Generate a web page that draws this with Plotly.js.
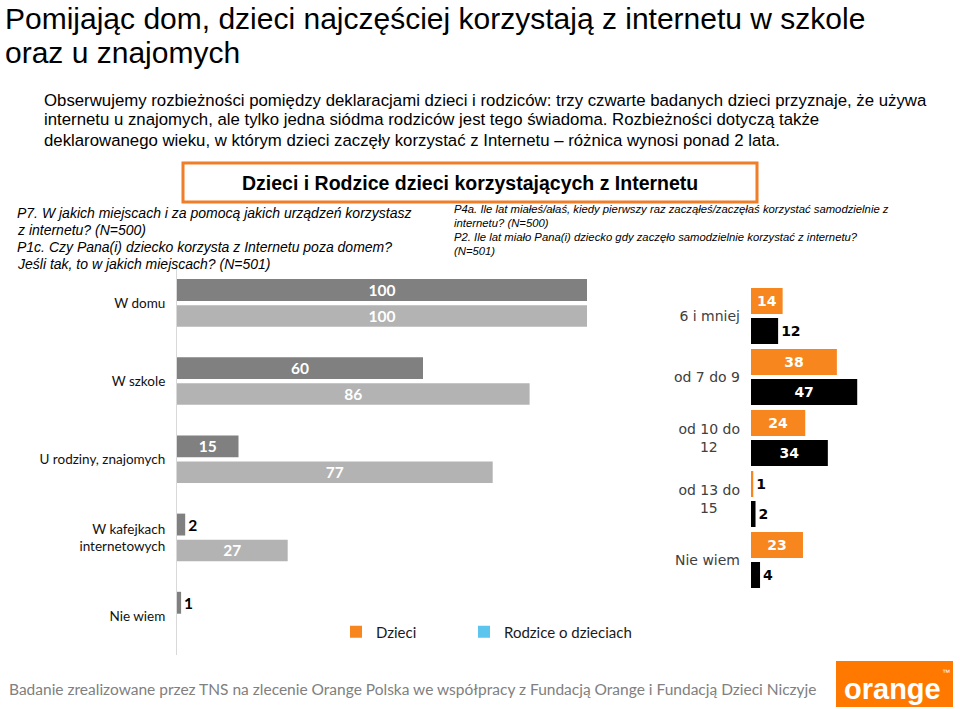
<!DOCTYPE html>
<html>
<head>
<meta charset="utf-8">
<script src="https://cdn.plot.ly/plotly-3.0.1.min.js"></script>
<style>html,body{margin:0;padding:0;background:#fff;}#chart{width:960px;height:709px;}</style>
</head>
<body>
<div id="chart"></div>
<script>
// ---- data ----
const leftCategories = ['W domu', 'W szkole', 'U rodziny, znajomych', 'W kafejkach<br>internetowych', 'Nie wiem'];
const leftDzieci = [100, 60, 15, 2, 1];
const leftRodzice = [100, 86, 77, 27, null];
const rightCategories = ['6 i mniej', 'od 7 do 9', 'od 10 do<br>12&nbsp;&nbsp;&nbsp;&nbsp;&nbsp;', 'od 13 do<br>15&nbsp;&nbsp;&nbsp;&nbsp;&nbsp;', 'Nie wiem'];
const rightDzieci = [14, 38, 24, 1, 23];
const rightRodzice = [12, 47, 34, 2, 4];
const seriesNames = ['Dzieci', 'Rodzice o dzieciach'];

// ---- helpers (pixel -> paper) ----
const W = 960, H = 709;
const px = x => x / W;
const py = y => 1 - y / H;

const HEAD = 'Liberation Sans, Arial, sans-serif';
const CAL = 'Lato, Carlito, Calibri, sans-serif';
const VER = 'DejaVu Sans, Verdana, sans-serif';

const traces = [
  {
    type: 'bar', orientation: 'h', name: seriesNames[0],
    x: leftDzieci, y: leftCategories, xaxis: 'x', yaxis: 'y',
    marker: {color: '#808080'},
    width: 0.28, offset: -0.308,
    text: leftDzieci.map(String), texttemplate: '%{text}', textangle: 0,
    textposition: ['inside', 'inside', 'inside', 'outside', 'outside'],
    insidetextanchor: 'middle', constraintext: 'none',
    insidetextfont: {family: CAL, size: 15.5, color: '#ffffff', weight: 'bold'},
    outsidetextfont: {family: CAL, size: 15.5, color: '#000000', weight: 'bold'},
    cliponaxis: false, showlegend: false, hoverinfo: 'skip'
  },
  {
    type: 'bar', orientation: 'h', name: seriesNames[1],
    x: leftRodzice, y: leftCategories, xaxis: 'x', yaxis: 'y',
    marker: {color: '#b3b3b3'},
    width: 0.275, offset: 0.026,
    text: leftRodzice.map(v => v == null ? '' : String(v)), texttemplate: '%{text}', textangle: 0,
    textposition: 'inside',
    insidetextanchor: 'middle', constraintext: 'none',
    insidetextfont: {family: CAL, size: 15.5, color: '#ffffff', weight: 'bold'},
    cliponaxis: false, showlegend: false, hoverinfo: 'skip'
  },
  {
    type: 'bar', orientation: 'h', name: seriesNames[0],
    x: rightDzieci, y: rightCategories, xaxis: 'x2', yaxis: 'y2',
    marker: {color: '#f7861f'},
    width: 0.426, offset: -0.459,
    text: rightDzieci.map(String), texttemplate: '%{text}', textangle: 0,
    textposition: ['inside', 'inside', 'inside', 'outside', 'inside'],
    insidetextanchor: 'middle', constraintext: 'none',
    insidetextfont: {family: VER, size: 14, color: '#ffffff', weight: 'bold'},
    outsidetextfont: {family: VER, size: 14, color: '#000000', weight: 'bold'},
    cliponaxis: false, showlegend: false, hoverinfo: 'skip'
  },
  {
    type: 'bar', orientation: 'h', name: seriesNames[1],
    x: rightRodzice, y: rightCategories, xaxis: 'x2', yaxis: 'y2',
    marker: {color: '#000000'},
    width: 0.426, offset: 0.033,
    text: rightRodzice.map(String), texttemplate: '%{text}', textangle: 0,
    textposition: ['outside', 'inside', 'inside', 'outside', 'outside'],
    insidetextanchor: 'middle', constraintext: 'none',
    insidetextfont: {family: VER, size: 14, color: '#ffffff', weight: 'bold'},
    outsidetextfont: {family: VER, size: 14, color: '#000000', weight: 'bold'},
    cliponaxis: false, showlegend: false, hoverinfo: 'skip'
  },
  // legend entries (zero-length bars, only for the legend swatches)
  {type: 'bar', orientation: 'h', name: seriesNames[0], x: [0], y: [leftCategories[4]], xaxis: 'x', yaxis: 'y',
   width: 0.01, offset: 0.4, marker: {color: '#f7861f'}, showlegend: true, legend: 'legend', hoverinfo: 'skip'},
  {type: 'bar', orientation: 'h', name: seriesNames[1], x: [0], y: [leftCategories[4]], xaxis: 'x', yaxis: 'y',
   width: 0.01, offset: 0.4, marker: {color: '#5bc5ee'}, showlegend: true, legend: 'legend2', hoverinfo: 'skip'}
];

const hidden = {showgrid: false, zeroline: false, showticklabels: false, showline: false, ticks: ''};

function note(x, y, text, font, anchor) {
  return {xref: 'paper', yref: 'paper', x: px(x), y: py(y), xanchor: anchor || 'left', yanchor: 'middle',
          align: 'left', showarrow: false, text: text, font: font};
}

const titleFont = {family: HEAD, size: 30, color: '#000000'};
const paraFont = {family: HEAD, size: 16.8, color: '#000000'};
const leftNoteFont = {family: HEAD, size: 14, color: '#000000', style: 'italic'};
const rightNoteFont = {family: HEAD, size: 11.3, color: '#000000', style: 'italic'};
const legendBase = {
  orientation: 'h', xanchor: 'left', yanchor: 'middle',
  font: {family: CAL, size: 15, color: '#1a1a1a'},
  bgcolor: 'rgba(0,0,0,0)', traceorder: 'normal'
};

const layout = {
  width: W, height: H,
  margin: {l: 0, r: 0, t: 0, b: 0},
  paper_bgcolor: '#ffffff', plot_bgcolor: 'rgba(0,0,0,0)',
  barmode: 'overlay',
  showlegend: true,
  legend: Object.assign({x: px(336), y: py(632)}, legendBase),
  legend2: Object.assign({x: px(464), y: py(632)}, legendBase),
  xaxis: Object.assign({domain: [px(177), px(600)], range: [0, 423 / 4.1], anchor: 'y', fixedrange: true}, hidden),
  yaxis: {
    domain: [py(655), py(264)], type: 'category', range: [4.5, -0.5], anchor: 'x',
    showline: true, linecolor: '#d9d9d9', linewidth: 1, showgrid: false, zeroline: false,
    ticks: '', ticklabelstandoff: 8,
    tickfont: {family: CAL, size: 13.5, color: '#111111'}
  },
  xaxis2: Object.assign({domain: [px(751), px(955)], range: [0, 204 / 2.26], anchor: 'y2', fixedrange: true}, hidden),
  yaxis2: {
    domain: [py(590.5), py(285.5)], type: 'category', range: [4.5, -0.5], anchor: 'x2',
    showline: false, showgrid: false, zeroline: false,
    ticks: '', ticklabelstandoff: 10,
    tickfont: {family: VER, size: 14, color: '#404040'}
  },
  shapes: [
    {type: 'rect', xref: 'paper', yref: 'paper', x0: px(183), x1: px(757), y0: py(163), y1: py(202),
     line: {color: '#f07d27', width: 3}, fillcolor: 'rgba(0,0,0,0)'},
    {type: 'rect', xref: 'paper', yref: 'paper', x0: px(836), x1: px(953), y0: py(661), y1: py(707),
     line: {width: 0}, fillcolor: '#ff7900'}
  ],
  annotations: [
    note(3, 19, 'Pomijając dom, dzieci najczęściej korzystają z internetu w szkole', titleFont),
    note(3, 52, 'oraz u znajomych', titleFont),
    note(42, 100, 'Obserwujemy rozbieżności pomiędzy deklaracjami dzieci i rodziców: trzy czwarte badanych dzieci przyznaje, że używa', paraFont),
    note(42, 120, 'internetu u znajomych, ale tylko jedna siódma rodziców jest tego świadoma. Rozbieżności dotyczą także', paraFont),
    note(42, 140, 'deklarowanego wieku, w którym dzieci zaczęły korzystać z Internetu – różnica wynosi ponad 2 lata.', paraFont),
    note(470, 183, 'Dzieci i Rodzice dzieci korzystających z Internetu',
         {family: HEAD, size: 19.5, color: '#000000', weight: 'bold'}, 'center'),
    note(15, 213, 'P7. W jakich miejscach i za pomocą jakich urządzeń korzystasz', leftNoteFont),
    note(15, 230, 'z internetu? (N=500)', leftNoteFont),
    note(15, 247, 'P1c. Czy Pana(i) dziecko korzysta z Internetu poza domem?', leftNoteFont),
    note(15, 264, 'Jeśli tak, to w jakich miejscach? (N=501)', leftNoteFont),
    note(452, 209, 'P4a. Ile lat miałeś/ałaś, kiedy pierwszy raz zacząłeś/zaczęłaś korzystać samodzielnie z', rightNoteFont),
    note(452, 223, 'internetu? (N=500)', rightNoteFont),
    note(452, 237, 'P2. Ile lat miało Pana(i) dziecko gdy zaczęło samodzielnie korzystać z internetu?', rightNoteFont),
    note(452, 251, '(N=501)', rightNoteFont),
    note(7, 689, 'Badanie zrealizowane przez TNS na zlecenie Orange Polska we współpracy z Fundacją Orange i Fundacją Dzieci Niczyje',
         {family: CAL, size: 15.5, color: '#808080'}),
    note(842, 689, 'orange', {family: HEAD, size: 29, color: '#ffffff', weight: 'bold'}),
    note(940, 672, '™', {family: HEAD, size: 8, color: '#ffffff'})
  ]
};

Plotly.newPlot('chart', traces, layout, {staticPlot: true, displayModeBar: false});
</script>
</body>
</html>
